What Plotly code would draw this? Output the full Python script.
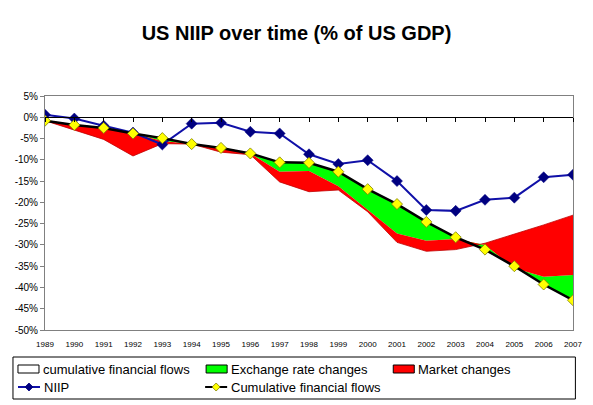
import plotly.graph_objects as go

# ---------------- data ----------------
years = list(range(1989, 2008))
niip = [0.6, -0.3, -2.0, -3.6, -6.4, -1.5, -1.3, -3.4, -3.8, -8.7, -11.0, -10.1,
        -15.0, -21.8, -22.0, -19.4, -18.9, -14.1, -13.5]
cum_flows = [-0.8, -1.8, -2.5, -3.8, -4.9, -6.3, -7.2, -8.5, -10.6, -10.7, -12.8,
             -16.9, -20.4, -24.6, -28.2, -31.1, -35.0, -39.3, -43.0]
exchange_rate_changes = [0.0, 0.0, 0.0, 0.0, -0.7, 0.0, 0.0, 0.0, -2.2, -1.9, -3.4,
                         -4.9, -6.9, -4.4, -0.4, 1.1, -0.5, 1.8, 5.9]
market_changes = [0.0, -1.2, -2.7, -5.3, -0.6, 0.0, -1.0, -0.3, -2.4, -4.9, -0.9,
                  -0.4, -2.1, -2.5, -2.5, 0.4, 8.0, 12.2, 14.1]
y_ticks = list(range(5, -55, -5))

# ---------------- layout constants ----------------
W, H = 593, 405
ML, MR, MT, MB = 45, 20.4, 96, 75
PW, PH = W - ML - MR, H - MT - MB
FONT = "Liberation Sans, Arial, sans-serif"
GREEN = "#00FF00"
RED = "#FF0000"
BLUE_LINE = "#1010A8"
NAVY = "#000080"
YELLOW = "#FFFF00"


def px_x(px):
    return (px - ML) / PW


def px_y(py):
    return (H - MB - py) / PH


fig = go.Figure()

# stacked areas (library stacking)
fig.add_trace(go.Scatter(x=years, y=cum_flows, stackgroup="s", mode="lines",
                         line=dict(color="black", width=1), fillcolor="white",
                         name="cumulative financial flows", showlegend=False,
                         hoverinfo="skip"))
fig.add_trace(go.Scatter(x=years, y=exchange_rate_changes, stackgroup="s", mode="lines",
                         line=dict(color=GREEN, width=0), fillcolor=GREEN,
                         name="Exchange rate changes", showlegend=False,
                         hoverinfo="skip"))
fig.add_trace(go.Scatter(x=years, y=market_changes, stackgroup="s", mode="lines",
                         line=dict(color="#C00000", width=0.8), fillcolor=RED,
                         name="Market changes", showlegend=False,
                         hoverinfo="skip"))

# lines
fig.add_trace(go.Scatter(x=years, y=niip, mode="lines+markers", name="NIIP",
                         line=dict(color=BLUE_LINE, width=2),
                         marker=dict(symbol="diamond", size=8.5, color=NAVY,
                                     line=dict(color=NAVY, width=0.5)),
                         showlegend=False))
fig.add_trace(go.Scatter(x=years, y=cum_flows, mode="lines+markers",
                         name="Cumulative financial flows",
                         line=dict(color="black", width=2.5),
                         marker=dict(symbol="diamond", size=8.5, color=YELLOW,
                                     line=dict(color="#7F7F00", width=0.8)),
                         showlegend=False))

# dummy trace for the zero-line category axis
fig.add_trace(go.Scatter(x=years, y=[None] * len(years), xaxis="x2", mode="lines",
                         showlegend=False, hoverinfo="skip"))

# ---------------- manual legend ----------------
shapes = []
annotations = []
shapes.append(dict(type="rect", xref="paper", yref="paper",
                   x0=px_x(13), x1=px_x(575), y0=px_y(357), y1=px_y(399),
                   line=dict(color="black", width=1), fillcolor="white", layer="above"))
row1, row2 = 369, 387
LEG_FONT = dict(family=FONT, size=13, color="black")
for x0, fill, label in [(18, "white", "cumulative financial flows"),
                        (206, GREEN, "Exchange rate changes"),
                        (393, RED, "Market changes")]:
    shapes.append(dict(type="rect", xref="paper", yref="paper",
                       x0=px_x(x0), x1=px_x(x0 + 21), y0=px_y(row1 - 4), y1=px_y(row1 + 4),
                       line=dict(color="black", width=1), fillcolor=fill, layer="above"))
    annotations.append(dict(text=label, xref="paper", yref="paper", x=px_x(x0 + 23),
                            y=px_y(row1), xanchor="left", yanchor="middle",
                            showarrow=False, font=LEG_FONT))


def diamond(cx, cy, r, fill, edge):
    path = (f"M {px_x(cx - r)} {px_y(cy)} L {px_x(cx)} {px_y(cy - r)} "
            f"L {px_x(cx + r)} {px_y(cy)} L {px_x(cx)} {px_y(cy + r)} Z")
    return dict(type="path", xref="paper", yref="paper", path=path,
                fillcolor=fill, line=dict(color=edge, width=0.8), layer="above")


for x0, lcol, mfill, medge, label in [(18, BLUE_LINE, NAVY, NAVY, "NIIP"),
                                      (205, "black", YELLOW, "#7F7F00",
                                       "Cumulative financial flows")]:
    shapes.append(dict(type="line", xref="paper", yref="paper",
                       x0=px_x(x0), x1=px_x(x0 + 22), y0=px_y(row2), y1=px_y(row2),
                       line=dict(color=lcol, width=2), layer="above"))
    shapes.append(diamond(x0 + 11, row2, 4, mfill, medge))
    annotations.append(dict(text=label, xref="paper", yref="paper", x=px_x(x0 + 24),
                            y=px_y(row2), xanchor="left", yanchor="middle",
                            showarrow=False, font=LEG_FONT))

fig.update_layout(
    width=W, height=H,
    margin=dict(l=ML, r=MR, t=MT, b=MB, pad=0),
    paper_bgcolor="white", plot_bgcolor="white",
    showlegend=False,
    title=dict(text="<b>US NIIP over time (% of US GDP)</b>", x=0.5, xanchor="center",
               xref="container", y=1 - 33 / H, yanchor="middle", yref="container",
               font=dict(family=FONT, size=20, color="black")),
    xaxis=dict(range=[years[0], years[-1]], tickvals=years,
               ticktext=[str(y) for y in years], ticks="", showgrid=False,
               zeroline=False, showline=True, linecolor="#808080", linewidth=1,
               mirror=True,
               tickfont=dict(family="Liberation Sans Narrow, " + FONT, size=8,
                             color="black"),
               ticklabelstandoff=6),
    xaxis2=dict(range=[years[0], years[-1]], overlaying="x", anchor="free",
                position=(0 - (-50)) / (5 - (-50)), side="bottom",
                tickvals=years, ticks="outside", ticklen=4, tickcolor="black",
                showticklabels=False, showgrid=False, zeroline=False,
                showline=True, linecolor="black", linewidth=1),
    yaxis=dict(range=[-50, 5], tickvals=y_ticks,
               ticktext=[f"{v}%" for v in y_ticks], ticks="outside", ticklen=4,
               tickcolor="#808080", showgrid=False, zeroline=False, showline=True,
               linecolor="#808080", linewidth=1, mirror=True,
               tickfont=dict(family=FONT, size=10, color="black")),
    shapes=shapes,
    annotations=annotations,
)

fig.write_html("out.html")
